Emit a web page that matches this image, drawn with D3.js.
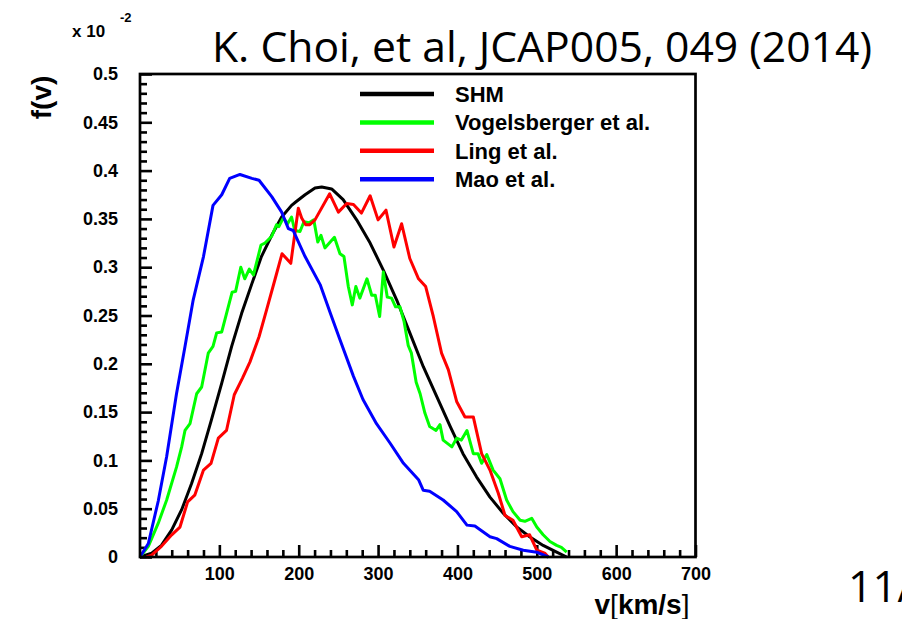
<!DOCTYPE html>
<html><head><meta charset="utf-8">
<script src="https://cdn.jsdelivr.net/npm/d3@7"></script>
<style>
html,body{margin:0;padding:0;background:#fff;}
svg{display:block;}
</style></head>
<body>
<script>
// ---------- data ----------
const seriesNames = ["SHM", "Vogelsberger et al.", "Ling et al.", "Mao et al."];
const seriesColors = ["#000000", "#00ff00", "#ff0000", "#0000ff"];

const shm = [[0,0],[14.7,0.004],[27,0.012],[40,0.028],[52.5,0.049],[65,0.076],[77.7,0.107],[90,0.142],[103,0.180],[115.5,0.218],[128,0.252],[141,0.283],[153,0.311],[166,0.333],[178.5,0.352],[191,0.364],[197,0.368],[208,0.375],[220.5,0.382],[229,0.383],[241.5,0.381],[256,0.370],[273,0.349],[290,0.325],[306.6,0.297],[323.5,0.266],[340,0.232],[357,0.197],[374,0.166],[391,0.135],[407,0.107],[424,0.083],[441,0.062],[458,0.045],[474.7,0.031],[491,0.021],[508,0.012],[525,0.005],[537.7,0]];

const vogelsberger = [[0,0],[10.5,0.011],[23,0.035],[33.6,0.059],[46,0.093],[52.5,0.114],[56.7,0.131],[63,0.138],[71.4,0.169],[77.7,0.176],[86,0.211],[92,0.218],[96.6,0.232],[103,0.233],[109,0.252],[116,0.274],[120.5,0.275],[127,0.300],[132,0.288],[137.7,0.298],[143,0.292],[152.5,0.323],[157.5,0.325],[166,0.332],[172,0.344],[175,0.342],[180.6,0.351],[186,0.345],[191,0.352],[195,0.338],[201.6,0.337],[206.6,0.347],[213,0.346],[219,0.349],[224,0.326],[228,0.333],[233,0.320],[245,0.331],[252,0.314],[257,0.311],[262.5,0.280],[267.5,0.261],[272,0.280],[277,0.268],[286,0.288],[292,0.271],[296.5,0.271],[302,0.249],[306.6,0.295],[311.6,0.269],[317,0.268],[322,0.259],[327.6,0.259],[332.7,0.244],[338,0.219],[342,0.211],[348,0.181],[353,0.169],[359,0.149],[365,0.135],[373,0.131],[378,0.137],[382,0.121],[393,0.114],[399,0.123],[405,0.121],[412,0.131],[420,0.107],[426,0.107],[430.5,0.097],[437,0.106],[445,0.090],[453.6,0.081],[462,0.059],[470,0.047],[479,0.038],[485,0.037],[493.6,0.040],[500,0.031],[508,0.023],[516.6,0.016],[525,0.012],[531,0.010],[537.7,0.005]];

const ling = [[8,0],[14.7,0.002],[27,0.011],[40,0.023],[50.4,0.031],[60,0.057],[69,0.064],[80,0.090],[89.5,0.097],[98.7,0.123],[109,0.131],[118.8,0.168],[129,0.185],[138.6,0.202],[150,0.228],[159.6,0.256],[170,0.287],[179,0.314],[190,0.304],[199.5,0.361],[203.7,0.351],[208.8,0.344],[214,0.344],[220.5,0.349],[239,0.376],[250,0.357],[260.5,0.366],[269,0.365],[279,0.356],[290,0.374],[300,0.349],[310,0.359],[320,0.321],[329.7,0.345],[340,0.309],[351,0.288],[360,0.280],[369.6,0.249],[380,0.211],[388.5,0.194],[399,0.161],[409.5,0.145],[420,0.145],[430.5,0.107],[441,0.090],[451.5,0.066],[460,0.043],[470,0.038],[481,0.021],[491,0.023],[500,0.007],[510,0.004],[514.5,0]];

const mao = [[0,0],[10.5,0.014],[23,0.058],[33.6,0.104],[46,0.169],[56.7,0.218],[67,0.266],[80,0.311],[92,0.364],[103,0.375],[113,0.392],[126,0.396],[141,0.392],[150,0.390],[166,0.373],[178.5,0.357],[187,0.340],[193,0.338],[208,0.311],[227,0.282],[240,0.252],[252,0.225],[269,0.187],[281,0.163],[298,0.138],[315,0.118],[332,0.097],[351,0.080],[357,0.069],[365,0.068],[382,0.059],[399,0.047],[412,0.033],[422,0.032],[441,0.021],[449.5,0.019],[466,0.011],[483,0.007],[500,0.005],[514.5,0]];

const seriesData = [shm, vogelsberger, ling, mao];

const xTickValues = [100, 200, 300, 400, 500, 600, 700];
const xTickLabels = ["100", "200", "300", "400", "500", "600", "700"];
const yTickValues = [0, 0.05, 0.1, 0.15, 0.2, 0.25, 0.3, 0.35, 0.4, 0.45, 0.5];
const yTickLabels = ["0", "0.05", "0.1", "0.15", "0.2", "0.25", "0.3", "0.35", "0.4", "0.45", "0.5"];
const xMinorStep = 20, yMinorStep = 0.01;

const titleText = "K. Choi, et al, JCAP005, 049 (2014)";
const pageText = "11/";

// ---------- drawing ----------
const W = 902, H = 619;
const L = 140, R = 695.5, T = 74, B = 557;
const svg = d3.select("body").append("svg").attr("width", W).attr("height", H);
const x = d3.scaleLinear().domain([0, 700]).range([L, R]);
const y = d3.scaleLinear().domain([0, 0.5]).range([B, T]);
const axisFont = "'Liberation Sans', Arial, sans-serif";

// minor ticks
const xMinor = d3.range(xMinorStep, 700, xMinorStep).filter(v => Math.abs(v % 100) > 1e-6);
const yMinor = d3.range(1, 50).map(i => i / 100).filter((v, i) => (i + 1) % 5 !== 0);

const gx = svg.append("g").attr("transform", `translate(0,${B})`)
  .call(d3.axisBottom(x).tickValues(xTickValues).tickSizeInner(-12).tickSizeOuter(0)
        .tickPadding(10).tickFormat((d, i) => xTickLabels[i]));
gx.select(".domain").remove();
gx.selectAll(".tick line").attr("stroke", "#000").attr("stroke-width", 2.6);
gx.selectAll(".tick text").attr("font-family", axisFont).attr("font-weight", "bold")
  .attr("font-size", 18).attr("fill", "#000");

const gxm = svg.append("g").attr("transform", `translate(0,${B})`)
  .call(d3.axisBottom(x).tickValues(xMinor).tickSizeInner(-7).tickSizeOuter(0).tickFormat(""));
gxm.select(".domain").remove();
gxm.selectAll(".tick line").attr("stroke", "#000").attr("stroke-width", 2.6);

const gy = svg.append("g").attr("transform", `translate(${L},0)`)
  .call(d3.axisLeft(y).tickValues(yTickValues).tickSizeInner(-12).tickSizeOuter(0)
        .tickPadding(22).tickFormat((d, i) => yTickLabels[i]));
gy.select(".domain").remove();
gy.selectAll(".tick line").attr("stroke", "#000").attr("stroke-width", 2.6);
gy.selectAll(".tick text").attr("font-family", axisFont).attr("font-weight", "bold")
  .attr("font-size", 18).attr("fill", "#000");

const gym = svg.append("g").attr("transform", `translate(${L},0)`)
  .call(d3.axisLeft(y).tickValues(yMinor).tickSizeInner(-7).tickSizeOuter(0).tickFormat(""));
gym.select(".domain").remove();
gym.selectAll(".tick line").attr("stroke", "#000").attr("stroke-width", 2.6);

// series
const line = d3.line().x(d => x(d[0])).y(d => y(d[1]));
svg.append("g").selectAll("path").data(seriesData).join("path")
  .attr("d", line).attr("fill", "none")
  .attr("stroke", (d, i) => seriesColors[i])
  .attr("stroke-width", 3).attr("stroke-linejoin", "round");

// frame
svg.append("rect").attr("x", L).attr("y", T).attr("width", R - L).attr("height", B - T)
  .attr("fill", "none").attr("stroke", "#000").attr("stroke-width", 2.7);

// legend
const leg = svg.append("g");
seriesNames.forEach((n, i) => {
  const ly = 94 + i * 28.4;
  leg.append("line").attr("x1", 360).attr("x2", 434).attr("y1", ly).attr("y2", ly)
    .attr("stroke", seriesColors[i]).attr("stroke-width", 4.5);
  leg.append("text").attr("x", 455).attr("y", ly + 7.8).text(n)
    .attr("font-family", axisFont).attr("font-weight", "bold").attr("font-size", 22).attr("fill", "#000");
});

// axis titles
svg.append("text").attr("transform", "translate(41,97.5) rotate(-90)")
  .attr("text-anchor", "middle").attr("dominant-baseline", "central")
  .attr("font-family", axisFont).attr("font-weight", "bold").attr("font-size", 28).text("f(v)");

const xt = svg.append("text").attr("x", 642).attr("y", 614).attr("text-anchor", "middle")
  .attr("font-family", axisFont).attr("font-size", 28);
xt.append("tspan").attr("font-weight", "bold").text("v");
xt.append("tspan").attr("font-weight", "normal").text("[");
xt.append("tspan").attr("font-weight", "bold").text("km/s");
xt.append("tspan").attr("font-weight", "normal").text("]");

// multiplier
svg.append("text").attr("x", 72).attr("y", 37).attr("font-family", axisFont)
  .attr("font-weight", "bold").attr("font-size", 17).text("x 10");
svg.append("text").attr("x", 120).attr("y", 22).attr("font-family", axisFont)
  .attr("font-weight", "bold").attr("font-size", 13).text("-2");

// slide title and page number
svg.append("text").attr("x", 212).attr("y", 62).attr("font-family", "'Open Sans', sans-serif")
  .attr("font-size", 42).attr("textLength", 660).attr("lengthAdjust", "spacingAndGlyphs").text(titleText);
svg.append("text").attr("x", 848).attr("y", 602).attr("font-family", "'Open Sans', sans-serif")
  .attr("font-size", 43).text(pageText);
</script>
</body></html>
